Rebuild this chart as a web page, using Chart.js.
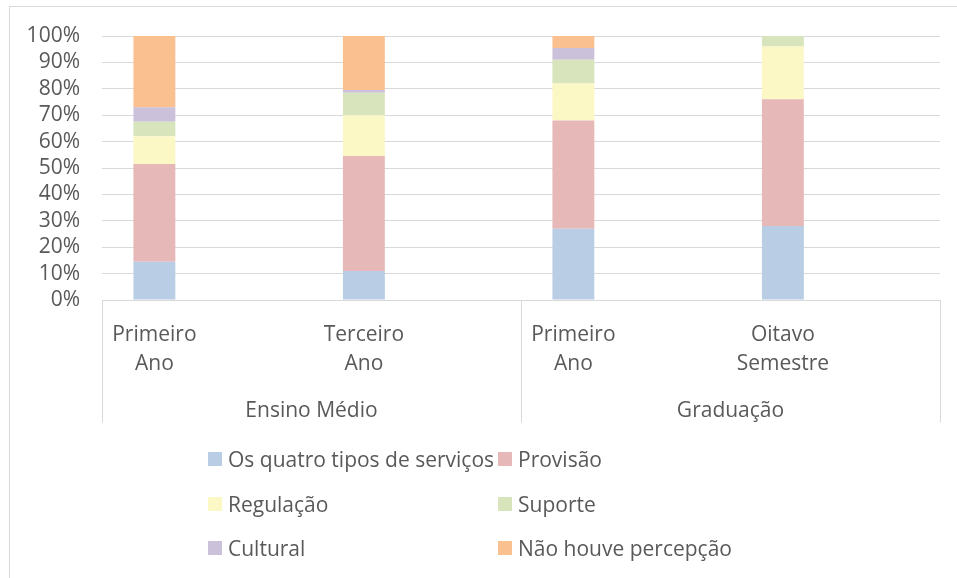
<!DOCTYPE html>
<html lang="pt">
<head>
<meta charset="utf-8">
<script src="https://cdn.jsdelivr.net/npm/chart.js@4.4.0/dist/chart.umd.min.js"></script>
<style>
  html, body { margin: 0; padding: 0; background: #fff; }
  #caixa { position: relative; width: 957px; height: 578px; overflow: hidden; }
  #moldura { position: absolute; left: 9px; top: 6px; width: 1000px; height: 1000px; border: 1px solid #d9d9d9; box-sizing: border-box; }
  #grafico { position: absolute; left: 0; top: 0; }
  #legenda { position: absolute; left: 208px; top: 437px; display: grid; grid-template-columns: 290px 290px; grid-auto-rows: 44.5px; font-family: "Open Sans", sans-serif; font-size: 21px; color: #595959; }
  .item { display: flex; align-items: center; white-space: nowrap; }
  .cor { width: 14px; height: 14px; margin-right: 6px; flex: none; }
</style>
</head>
<body>
<div id="caixa">
  <div id="moldura"></div>
  <canvas id="grafico" width="957" height="578"></canvas>
  <div id="legenda"></div>
</div>
<script>
// colunas vazias entre as turmas, como na planilha original
const categorias = [["Primeiro", "Ano"], "", ["Terceiro", "Ano"], "", ["Primeiro", "Ano"], "", ["Oitavo", "Semestre"], ""];
const grupos = ["Ensino Médio", "Graduação"];

const quatroTipos = [14.5, null, 11, null, 27, null, 28, null];
const provisao = [37, null, 43.5, null, 41, null, 48, null];
const regulacao = [10.5, null, 15.5, null, 14, null, 20, null];
const suporte = [5.5, null, 8.5, null, 9, null, 4, null];
const cultural = [5.5, null, 1, null, 4.5, null, 0, null];
const naoHouve = [27, null, 20.5, null, 4.5, null, 0, null];

const nomesSeries = ["Os quatro tipos de serviços", "Provisão", "Regulação", "Suporte", "Cultural", "Não houve percepção"];
const coresSeries = ["#b9cde5", "#e6b9b8", "#fbf8c5", "#d8e4bc", "#ccc1da", "#fac090"];
const ticksY = [0, 10, 20, 30, 40, 50, 60, 70, 80, 90, 100];

const fonte = { family: "'Open Sans', sans-serif", size: 21 };
const fonteX = { family: "'Open Sans', sans-serif", size: 21, lineHeight: 1.38 };
const corTexto = "#595959";
const corLinha = "#d9d9d9";

// linhas verticais que separam os grupos do eixo
const separadores = {
  id: "separadores",
  afterDraw(chart) {
    const g = chart.scales.x2;
    const ctx = chart.ctx;
    ctx.save();
    ctx.strokeStyle = corLinha;
    ctx.lineWidth = 1;
    for (let i = 0; i <= grupos.length; i++) {
      const x = Math.round(g.getPixelForValue(i - 0.5)) + 0.5;
      ctx.beginPath();
      ctx.moveTo(x, chart.chartArea.bottom);
      ctx.lineTo(x, g.bottom);
      ctx.stroke();
    }
    ctx.restore();
  }
};

const valores = [quatroTipos, provisao, regulacao, suporte, cultural, naoHouve];

const grafico = new Chart(document.getElementById("grafico"), {
  type: "bar",
  data: {
    labels: categorias,
    datasets: valores.map((v, i) => ({
      label: nomesSeries[i],
      data: v,
      backgroundColor: coresSeries[i],
      borderWidth: 0
    }))
  },
  options: {
    responsive: false,
    animation: false,
    layout: { padding: { left: 22, right: 17, top: 36, bottom: 155.5 } },
    datasets: { bar: { barPercentage: 0.4, categoryPercentage: 1 } },
    plugins: { legend: { display: false }, tooltip: { enabled: false } },
    scales: {
      x: {
        stacked: true,
        grid: { display: false },
        border: { color: corLinha },
        ticks: { autoSkip: false, maxRotation: 0, padding: 12.5, color: corTexto, font: fonteX },
        afterFit: s => { s.height = 75.5; }
      },
      x2: {
        type: "category",
        labels: grupos,
        position: "bottom",
        offset: true,
        grid: { display: false },
        border: { display: false },
        ticks: { padding: 13, color: corTexto, font: fonteX },
        afterFit: s => { s.height = 47; }
      },
      y: {
        stacked: true,
        min: 0,
        max: 100,
        afterBuildTicks: s => { s.ticks = ticksY.map(v => ({ value: v })); },
        ticks: { autoSkip: false, padding: 22, color: corTexto, font: fonte, callback: v => v + "%" },
        grid: { color: corLinha, drawTicks: false },
        border: { display: false },
        afterFit: s => { s.width = 80; }
      }
    }
  },
  plugins: [separadores]
});

// legenda em duas colunas, como no Excel
const legenda = document.getElementById("legenda");
grafico.data.datasets.forEach(d => {
  const item = document.createElement("div");
  item.className = "item";
  item.innerHTML = `<span class="cor" style="background:${d.backgroundColor}"></span><span>${d.label}</span>`;
  legenda.appendChild(item);
});
</script>
</body>
</html>
